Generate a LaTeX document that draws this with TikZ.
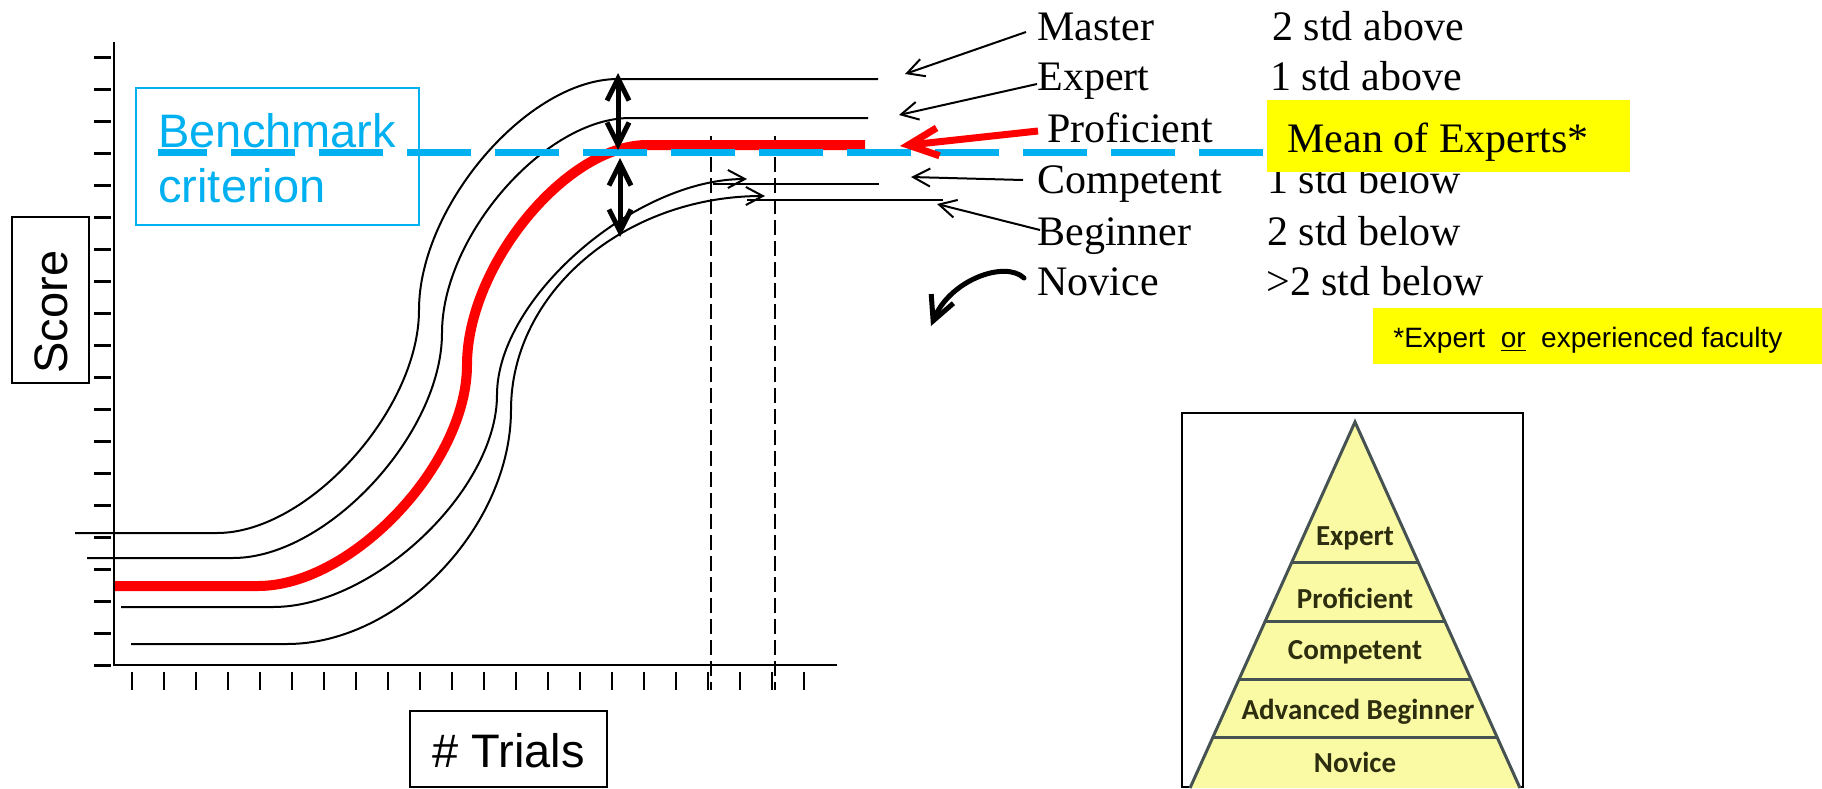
\documentclass[tikz,border=0pt]{standalone}
\usepackage{fontspec}
\setmainfont{Liberation Serif}
\newfontfamily\arialf{Liberation Sans}
\newfontfamily\calibf{Carlito}
\usetikzlibrary{arrows.meta}
\definecolor{cyanb}{RGB}{0,176,240}
\definecolor{hiyel}{RGB}{255,255,0}
\definecolor{pyrfill}{RGB}{250,250,165}
\definecolor{pyrline}{RGB}{70,82,82}
\definecolor{pyrtext}{RGB}{45,45,15}
\begin{document}
\begin{tikzpicture}[x=0.5pt,y=-0.5pt,
  blk/.style={line width=1pt},
  lblarrow/.style={line width=1pt, -{Straight Barb[length=8.5pt,width=9pt]}},
  dblarrow/.style={line width=2.5pt, {Straight Barb[length=11pt,width=11pt]}-{Straight Barb[length=11pt,width=11pt]}},
  serifl/.style={font=\fontsize{21}{25}\selectfont, inner sep=0pt, anchor=base west},
  sansbig/.style={font=\arialf\fontsize{23.5}{28}\selectfont, inner sep=0pt},
  pyrl/.style={font=\calibf\bfseries\fontsize{14.5}{17}\selectfont, text=pyrtext, inner sep=0pt},
  vdash/.style={line width=0.8pt, dash pattern=on 7.5pt off 3pt},
]
\useasboundingbox (0,0) rectangle (1822,788);

% axes
\draw[line width=1pt] (114,42) -- (114,665) -- (837,665);
\foreach \k in {0,...,19} \draw[line width=1.4pt] (94,{57.3+32*\k}) -- (111,{57.3+32*\k});
\foreach \k in {0,...,21} \draw[line width=1pt] ({132+32*\k},672) -- ({132+32*\k},690);

% dashed verticals
\draw[vdash] (711,136) -- (711,690);
\draw[vdash] (775,136) -- (775,690);

% curves
\draw[blk] (75,533) -- (217,533) .. controls (308,533) and (419,410) .. (419,310) .. controls (419,206) and (528,79) .. (618,79) -- (878,79);
\draw[blk] (87,558) -- (233,558) .. controls (327,558) and (442,434) .. (442,333) .. controls (442,236) and (545,118) .. (630,118) -- (868,118);
\draw[red, line width=5pt] (115,586) -- (258,586) .. controls (352,586) and (467,464) .. (467,365) .. controls (467,266) and (566,145) .. (647,145) -- (865,145);
\draw[lblarrow] (121,607) -- (273,607) .. controls (374,607) and (497,490) .. (497,395) .. controls (497,298) and (635,179) .. (747,179);
\draw[blk] (713,184) -- (879,184);
\draw[lblarrow] (131,644) -- (287,644) .. controls (399,644) and (511,527) .. (511,410) .. controls (511,292) and (625,196) .. (765,196);
\draw[blk] (747,200) -- (943,200);

% benchmark dashed line
\draw[cyanb, line width=3.5pt, dash pattern=on 32pt off 12pt, dash phase=7.5pt] (158,152) -- (1263,152);

% double arrows
\coordinate (da1) at (618,73); \coordinate (da2) at (618,150);
\coordinate (db1) at (620,158); \coordinate (db2) at (620,237);
\draw[dblarrow] (da1) -- (da2);
\draw[dblarrow] (db1) -- (db2);

% Benchmark box
\draw[cyanb, line width=1pt] (136,88) rectangle (419,225);
\node[sansbig, text=cyanb, anchor=base west] (bench) at (158,147) {Benchmark};
\node[sansbig, text=cyanb, anchor=base west] (crit) at (158,202) {criterion};

% Score box
\draw[line width=1pt] (12,217) rectangle (89,383);
\node[sansbig, rotate=90] (score) at (51,312) {Score};

% Trials box
\draw[line width=1pt] (410,711) rectangle (607,787);
\node[sansbig, anchor=base] (trials) at (508.5,767) {\# Trials};

% labels
\node[serifl] (master) at (1037,40) {Master};
\node[serifl] (expert) at (1037,90) {Expert};
\node[serifl] (prof) at (1047,142) {Proficient};
\node[serifl] (comp) at (1037,193) {Competent};
\node[serifl] (begin) at (1037,245) {Beginner};
\node[serifl] (nov) at (1037,295) {Novice};
\node[serifl] (s1) at (1272,40) {2 std above};
\node[serifl] (s2) at (1270,90) {1 std above};
\node[serifl] (s3) at (1267,193) {1 std below};
\node[serifl] (s4) at (1267,245) {2 std below};
\node[serifl] (s5) at (1266,295) {>2 std below};

% Mean of experts box
\fill[hiyel] (1267,100) rectangle (1630,172);
\node[serifl] (mean) at (1287,152) {Mean of Experts*};

% footnote
\fill[hiyel] (1373,308) rectangle (1822,364);
\node[font=\arialf\fontsize{14}{16}\selectfont, inner sep=0pt, anchor=base west] (foot) at (1393,347) {*Expert\ \ \underline{or}\ \ experienced faculty};

% label arrows
\coordinate (mA) at (1026,32); \coordinate (mT) at (905,74);
\coordinate (eA) at (1037,84); \coordinate (eT) at (899,115);
\coordinate (pA) at (1038,131); \coordinate (pT) at (900,146);
\coordinate (cA) at (1023,180); \coordinate (cT) at (911,177);
\coordinate (bA) at (1040,230); \coordinate (bT) at (937,204);
\coordinate (nA) at (1024,278); \coordinate (nT) at (931,326);
\draw[lblarrow] (mA) -- (mT);
\draw[lblarrow] (eA) -- (eT);
\draw[red, line width=3.5pt, -{Straight Barb[length=15pt,width=14pt]}] (pA) -- (pT);
\draw[lblarrow] (cA) -- (cT);
\draw[lblarrow] (bA) -- (bT);
\draw[line width=2.5pt, line cap=round, -{Straight Barb[length=12pt,width=12pt]}] (nA) .. controls (1005,260) and (950,280) .. (nT);

% pyramid picture
\draw[line width=1pt] (1182,413) rectangle (1523,787);
\fill[pyrfill] (1355,422) -- (1190,788) -- (1520,788) -- cycle;
\draw[pyrline, line width=1.5pt] (1190,788) -- (1355,422) -- (1520,788);
\draw[pyrline, line width=1.5pt] (1292,562) -- (1418,562);
\draw[pyrline, line width=1.5pt] (1266,621) -- (1444,621);
\draw[pyrline, line width=1.5pt] (1240,679) -- (1470,679);
\draw[pyrline, line width=1.5pt] (1213,737) -- (1497,737);
\node[pyrl] (pe) at (1355,538) {Expert};
\node[pyrl] (pp) at (1355,598) {Proficient};
\node[pyrl] (pc) at (1355,652) {Competent};
\node[pyrl] (pa) at (1358,712) {Advanced Beginner};
\node[pyrl] (pn) at (1355,762) {Novice};
\end{tikzpicture}
\end{document}
